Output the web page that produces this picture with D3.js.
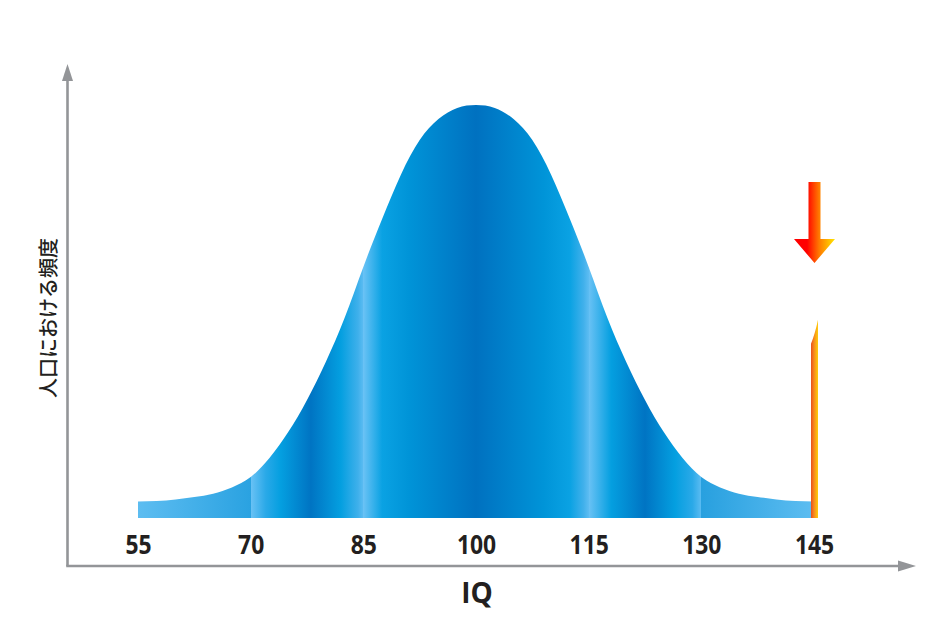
<!DOCTYPE html>
<html>
<head>
<meta charset="utf-8">
<script src="https://cdn.jsdelivr.net/npm/d3@7"></script>
<style>
  html, body { margin: 0; padding: 0; background: #ffffff; }
  svg { display: block; }
</style>
</head>
<body>
<svg id="chart" width="952" height="621"></svg>
<script>
// ---- data ----
const iqTicks = [55, 70, 85, 100, 115, 130, 145];
const curveIQ = [55, 57.5, 60, 62.5, 65, 67.5, 70, 72.5, 75, 77.5, 80, 82.5, 85, 87.5, 90, 92.5, 95, 97.5, 100,
                 102.5, 105, 107.5, 110, 112.5, 115, 117.5, 120, 122.5, 125, 127.5, 130, 132.5, 135, 137.5, 140, 142.5, 145];
const curveFreq = [4.0, 4.1, 4.5, 5.1, 5.9, 7.4, 9.9, 14.5, 20.8, 28.6, 37.8, 48.4, 60.8, 72.4, 83.1, 91.5, 96.6, 99.3, 100,
                   99.3, 96.6, 91.5, 83.1, 72.4, 60.8, 48.4, 37.8, 28.6, 20.8, 14.5, 9.9, 7.4, 5.9, 5.1, 4.5, 4.1, 4.0];
const markerIQ = 145;
const markerTop = 48;     // frequency level of the marker bar top (right edge)
const xLabel = "IQ";
const yLabel = "人口における頻度";

// ---- styling (gradient stripes) ----
const stopIQ = [55, 70, 70, 72, 74, 78, 82, 84.3, 85, 85, 87.5, 91, 100, 109, 112.5, 114.3, 115, 115, 118, 122.5, 126.5, 128.8, 130, 130, 145];
const stopColor = ["#5dbdf1", "#2aa2e1", "#6ac2f5", "#2aa9e8", "#049fe0", "#0074c3", "#049fe0", "#3fb0eb", "#5cbcf2",
                   "#6ac2f5", "#0aa2e3", "#0094d8", "#0071c0", "#0094d8", "#0aa2e3", "#40b0eb", "#5cbcf2",
                   "#6ac2f5", "#049fe0", "#0074c3", "#049fe0", "#2aa9e8", "#5cbcf2", "#28a0df", "#5dbdf1"];

const svg = d3.select("#chart");
const axisColor = "#939598";
const textColor = "#231f20";

const x = d3.scaleLinear().domain([55, 145]).range([138, 814]);
const y = d3.scaleLinear().domain([0, 100]).range([518, 105]);

const defs = svg.append("defs");
const g1 = defs.append("linearGradient").attr("id", "blueStripes")
  .attr("gradientUnits", "userSpaceOnUse")
  .attr("x1", x(55)).attr("x2", x(145)).attr("y1", 0).attr("y2", 0);
stopIQ.forEach((v, i) => {
  g1.append("stop").attr("offset", (x(v) - x(55)) / (x(145) - x(55))).attr("stop-color", stopColor[i]);
});

const g2 = defs.append("linearGradient").attr("id", "barGrad")
  .attr("gradientUnits", "userSpaceOnUse")
  .attr("x1", x(markerIQ) - 3).attr("x2", x(markerIQ) + 4).attr("y1", 0).attr("y2", 0);
g2.append("stop").attr("offset", 0).attr("stop-color", "#e9501b");
g2.append("stop").attr("offset", 0.45).attr("stop-color", "#f68b1f");
g2.append("stop").attr("offset", 1).attr("stop-color", "#ffcc08");

const g3 = defs.append("linearGradient").attr("id", "arrowGrad")
  .attr("gradientUnits", "userSpaceOnUse")
  .attr("x1", x(markerIQ) - 7).attr("x2", x(markerIQ) + 20).attr("y1", 0).attr("y2", 0);
g3.append("stop").attr("offset", 0).attr("stop-color", "#ff0000");
g3.append("stop").attr("offset", 0.45).attr("stop-color", "#ff7a00");
g3.append("stop").attr("offset", 1).attr("stop-color", "#ffe000");

// ---- bell curve area ----
const pts = curveIQ.map((v, i) => [v, curveFreq[i]]);
const area = d3.area()
  .x(d => x(d[0]))
  .y0(y(0))
  .y1(d => y(d[1]))
  .curve(d3.curveNatural);
svg.append("path").datum(pts).attr("d", area).attr("fill", "url(#blueStripes)");

// ---- marker bar at 145 ----
const bx0 = x(markerIQ) - 3, bx1 = x(markerIQ) + 4;
svg.append("path")
  .attr("d", `M${bx0},${y(0)} L${bx0},${y(markerTop) + 24} Q${bx0 + 4},${y(markerTop) + 14} ${bx1},${y(markerTop)} L${bx1},${y(0)} Z`)
  .attr("fill", "url(#barGrad)");

// ---- down arrow ----
const ax = x(markerIQ) + 0.5;
svg.append("path")
  .attr("d", `M${ax - 6},182 L${ax + 6},182 L${ax + 6},239 L${ax + 20.5},239 L${ax},263 L${ax - 20.5},239 L${ax - 6},239 Z`)
  .attr("fill", "url(#arrowGrad)");

// ---- axes lines with arrowheads ----
svg.append("path").attr("d", "M67.5,566 L67.5,79").attr("stroke", axisColor).attr("stroke-width", 2.6).attr("fill", "none");
svg.append("path").attr("d", "M62,81 L73,81 L67.5,64 Z").attr("fill", axisColor);
svg.append("path").attr("d", "M66.2,566 L900,566").attr("stroke", axisColor).attr("stroke-width", 2.6).attr("fill", "none");
svg.append("path").attr("d", "M898,560.5 L898,571.5 L916,566 Z").attr("fill", axisColor);

// ---- tick labels via d3 axis ----
const xAxis = d3.axisBottom(x).tickValues(iqTicks).tickSize(0).tickFormat(d3.format("d"));
const axG = svg.append("g").attr("transform", `translate(0,${y(0)})`).call(xAxis);
axG.select(".domain").remove();
axG.selectAll("text")
  .attr("y", 36).attr("dy", null)
  .attr("transform", "scale(0.88,1)")
  .attr("fill", textColor)
  .style("font-family", "'Open Sans', 'DejaVu Sans', sans-serif")
  .style("font-weight", 700)
  .style("font-size", "26px");

// ---- axis titles ----
svg.append("text").attr("x", 477).attr("y", 603)
  .attr("text-anchor", "middle").attr("fill", textColor)
  .style("font-family", "'Open Sans', sans-serif").style("font-weight", 700).style("font-size", "28px")
  .text(xLabel);

svg.append("text")
  .attr("transform", "translate(47,318) rotate(-90)")
  .attr("text-anchor", "middle").attr("dominant-baseline", "central").attr("fill", textColor)
  .style("font-family", "'Noto Sans CJK JP', sans-serif").style("font-weight", 500).style("font-size", "20px")
  .text(yLabel);
</script>
</body>
</html>
